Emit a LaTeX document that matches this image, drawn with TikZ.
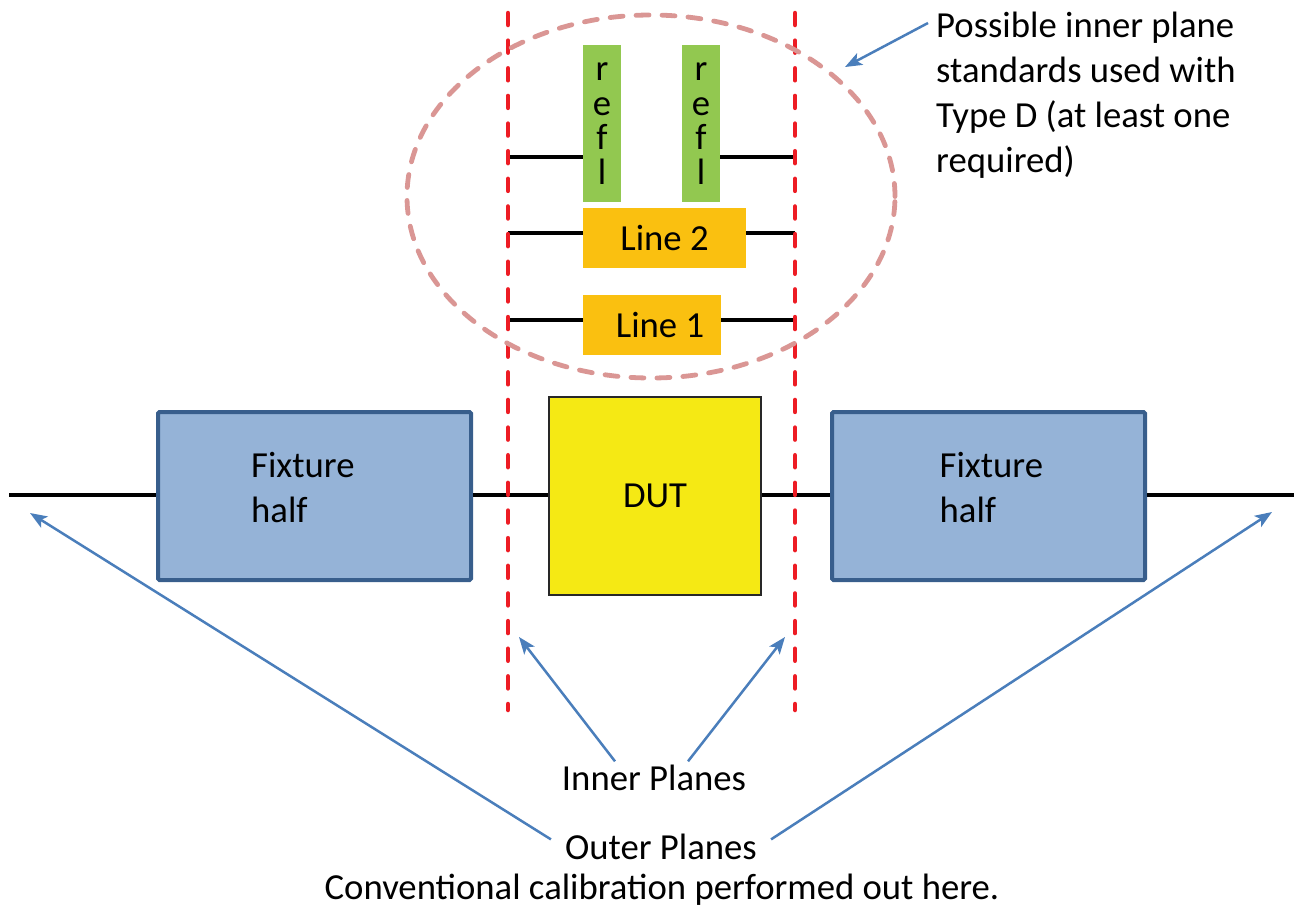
\documentclass[tikz,border=0pt]{standalone}
\usepackage{fontspec}
\setmainfont{Carlito}
\usetikzlibrary{arrows.meta,calc}
\definecolor{fixfill}{RGB}{149,179,215}
\definecolor{fixdraw}{RGB}{56,94,140}
\definecolor{dutfill}{RGB}{245,233,20}
\definecolor{dutdraw}{RGB}{40,40,40}
\definecolor{linefill}{RGB}{250,192,16}
\definecolor{reflfill}{RGB}{146,200,80}
\definecolor{planered}{RGB}{237,28,36}
\definecolor{ellcol}{RGB}{218,150,148}
\definecolor{arrblue}{RGB}{74,126,187}
\begin{document}
\begin{tikzpicture}[x=1pt,y=-1pt,
  txt/.style={font=\fontsize{36.7}{45}\selectfont, inner sep=0pt},
  fixbox/.style={draw=fixdraw, fill=fixfill, line width=4pt, rounded corners=1.5pt,
    minimum width=313pt, minimum height=168pt, inner sep=0pt},
  dutbox/.style={draw=dutdraw, fill=dutfill, line width=2pt, minimum width=212pt,
    minimum height=198pt, inner sep=0pt, font=\fontsize{36.7}{45}\selectfont},
  linebox/.style={fill=linefill, minimum height=60pt, inner sep=0pt,
    font=\fontsize{36.7}{45}\selectfont},
  reflbox/.style={fill=reflfill, minimum width=38pt, minimum height=157pt, inner sep=0pt,
    align=center, font=\fontsize{36.7}{34.5}\selectfont},
  wire/.style={black, line width=4.5pt},
  plane/.style={planered, line width=4.5pt, line cap=round, dash pattern=on 12pt off 15.64pt},
  ellstyle/.style={ellcol, line width=4.8pt, line cap=round, dash pattern=on 13pt off 13pt},
  arr/.style={arrblue, line width=2.5pt, -{Stealth[length=17pt,width=13pt,inset=4pt]}}
]
\useasboundingbox (0,0) rectangle (1294,908);

% coordinates
\coordinate (aL) at (508,157); \coordinate (aR) at (795,157);
\coordinate (bL) at (508,233); \coordinate (bR) at (795,233);
\coordinate (cL) at (508,320); \coordinate (cR) at (795,320);
\coordinate (mL) at (9,495);   \coordinate (mR) at (1294,495);
\coordinate (iLtop) at (508,13); \coordinate (iLbot) at (508,710);
\coordinate (iRtop) at (795,13); \coordinate (iRbot) at (795,710);
\coordinate (tOL) at (30,513);  \coordinate (tOR) at (1272,512);
\coordinate (tIL) at (519,637); \coordinate (tIR) at (785,637);
\coordinate (tP) at (845,67);

% standards
\node[reflbox] (reflL) at (602,123.5) {r\\e\\f\\l};
\node[reflbox] (reflR) at (701,123.5) {r\\e\\f\\l};
\node[linebox, minimum width=163pt] (line2) at (664.5,238) {Line 2\hspace{8pt}};
\node[linebox, minimum width=138pt] (line1) at (652,325) {\hspace{16pt}Line 1};

\draw[wire] (aL) -- (aL -| reflL.west);
\draw[wire] (aR) -- (aR -| reflR.east);
\draw[wire] (bL) -- (bL -| line2.west);
\draw[wire] (bR) -- (bR -| line2.east);
\draw[wire] (cL) -- (cL -| line1.west);
\draw[wire] (cR) -- (cR -| line1.east);

% main chain
\node[fixbox] (fixL) at (314.5,496) {};
\node[fixbox] (fixR) at (988.5,496) {};
\node[dutbox] (dut) at (655,496) {DUT};
\draw[wire] (mL) -- (mL -| fixL.west);
\draw[wire] (fixL.east |- mL) -- (dut.west |- mL);
\draw[wire] (dut.east |- mL) -- (fixR.west |- mL);
\draw[wire] (fixR.east |- mL) -- (mR);
\node[txt, anchor=base west, align=left] (fixLt) at (251,522) {Fixture\\half};
\node[txt, anchor=base west, align=left] (fixRt) at (939.5,522) {Fixture\\half};

% planes
\draw[plane] (iLtop) -- (iLbot);
\draw[plane] (iRtop) -- (iRbot);

% ellipse
\draw[ellstyle] (651,196.5) ellipse [x radius=244pt, y radius=181.5pt];

% labels
\node[txt, anchor=base] (inner) at (654,790) {Inner Planes};
\node[txt, anchor=base] (outer) at (661,859) {Outer Planes};
\node[txt, anchor=base] (conv) at (662,899) {Conventional calibration performed out here.};
\node[txt, anchor=north west, align=left] (poss) at (936,12)
  {Possible inner plane\\standards used with\\Type D (at least one\\required)};

% arrows
\draw[arr] ($(outer.west)+(-14,-7)$) -- (tOL);
\draw[arr] ($(outer.east)+(14,-7)$) -- (tOR);
\draw[arr] ($(inner.north)+(-39,-3)$) -- (tIL);
\draw[arr] ($(inner.north)+(34,-3)$) -- (tIR);
\draw[arr] ($(poss.north west)+(-8,11)$) -- (tP);
\end{tikzpicture}
\end{document}
